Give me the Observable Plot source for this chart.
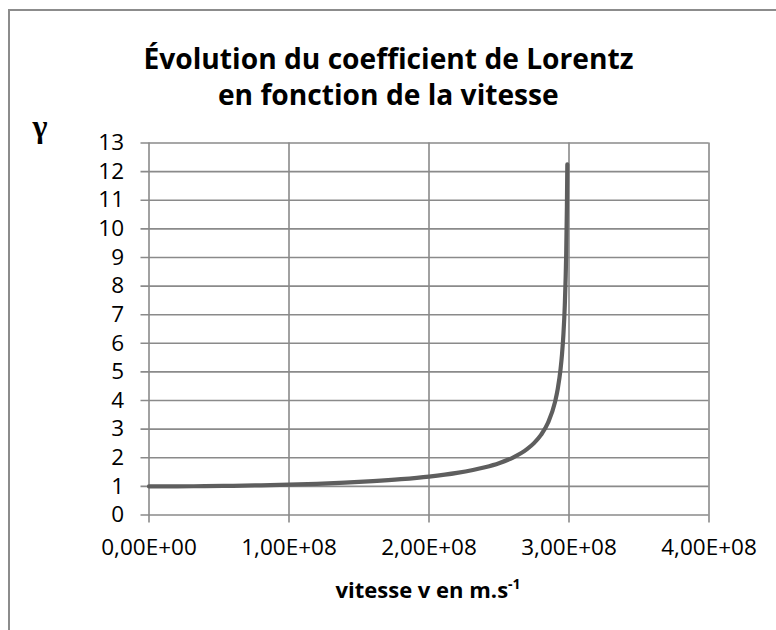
<!DOCTYPE html>
<html>
<head>
<meta charset="utf-8">
<script src="https://cdn.jsdelivr.net/npm/d3@7"></script>
<script src="https://cdn.jsdelivr.net/npm/@observablehq/plot@0.6"></script>
<style>
  html, body { margin: 0; padding: 0; background: #fff; overflow: hidden; }
  #wrap { position: relative; width: 776px; height: 630px; overflow: hidden; background: #fff; }
  #frame { position: absolute; left: 8px; top: 9px; width: 900px; height: 900px;
           border-left: 2px solid #8c8c8c; border-top: 2px solid #8c8c8c; }
  .title { position: absolute; white-space: nowrap; font-family: "Open Sans", sans-serif;
           font-weight: bold; font-size: 28px; color: #000; line-height: 1; transform-origin: center; }
  #gamma { position: absolute; font-family: "Liberation Serif", serif; font-weight: bold;
           font-size: 32px; color: #000; line-height: 1; }
  #xlabel { position: absolute; white-space: nowrap; font-family: "Open Sans", sans-serif;
            font-weight: bold; font-size: 22px; color: #000; line-height: 1; }
  #xlabel sup { font-size: 14px; vertical-align: 9px; line-height: 0; }
  #chart { position: absolute; left: 0; top: 0; }
</style>
</head>
<body>
<div id="wrap">
  <div id="frame"></div>
  <div id="chart"></div>
  <div class="title" id="t1">Évolution du coefficient de Lorentz</div>
  <div class="title" id="t2">en fonction de la vitesse</div>
  <div id="gamma">γ</div>
  <div id="xlabel">vitesse v en m.s<sup>-1</sup></div>
</div>
<script>
// Data
const vitesse = [0, 2e7, 4e7, 6e7, 8e7, 1e8, 1.2e8, 1.4e8, 1.6e8, 1.8e8, 2e8, 2.2e8, 2.4e8,
  2.5e8, 2.6e8, 2.7e8, 2.75e8, 2.8e8, 2.85e8, 2.9e8, 2.92e8, 2.94e8, 2.95e8, 2.96e8,
  2.97e8, 2.98e8, 2.985e8, 2.988e8];
const gammaVals = [1, 1.002, 1.009, 1.021, 1.038, 1.061, 1.091, 1.131, 1.183, 1.251, 1.342, 1.472, 1.669,
  1.812, 2.009, 2.301, 2.511, 2.798, 3.223, 3.944, 4.415, 5.109, 5.614, 6.30,
  7.33, 9.13, 10.75, 12.25];
const xTicks = [0, 1e8, 2e8, 3e8, 4e8];
const xTickLabels = ["0,00E+00", "1,00E+08", "2,00E+08", "3,00E+08", "4,00E+08"];
const yTicks = [0, 1, 2, 3, 4, 5, 6, 7, 8, 9, 10, 11, 12, 13];

const data = vitesse.map((v, i) => ({v, g: gammaVals[i]}));
const gridColor = "#8a8a8a";

const chart = Plot.plot({
  width: 776,
  height: 630,
  marginLeft: 148.5,
  marginRight: 67.5,
  marginTop: 142.5,
  marginBottom: 115.5,
  style: {fontFamily: "'Open Sans', sans-serif", fontSize: "22.5px", color: "#000", background: "transparent", overflow: "visible"},
  x: {domain: [0, 4e8], label: null},
  y: {domain: [0, 13], label: null},
  marks: [
    Plot.ruleY(yTicks, {stroke: gridColor, strokeWidth: 1.6, insetLeft: -8}),
    Plot.ruleX(xTicks, {stroke: gridColor, strokeWidth: 1.6, insetBottom: -8}),
    Plot.axisY(yTicks, {tickSize: 0, tickPadding: 25, tickFormat: d => String(d), fill: "#000", label: null}),
    Plot.axisX(xTicks, {tickSize: 0, tickPadding: 24, tickFormat: (d, i) => xTickLabels[i], fill: "#000", label: null}),
    Plot.line(data, {x: "v", y: "g", stroke: "#5e5e5e", strokeWidth: 4.2, curve: "monotone-x"})
  ]
});
document.getElementById("chart").appendChild(chart);

// Position titles
function place(el, cx, top, targetW) {
  const w = el.offsetWidth;
  el.style.left = (cx - w / 2) + "px";
  el.style.top = top + "px";
  if (targetW) el.style.transform = `scaleX(${targetW / w})`;
}
const t1 = document.getElementById("t1");
const t2 = document.getElementById("t2");
const k = 490 / t1.offsetWidth;
place(t1, 388, 44, 490);
place(t2, 388, 80, t2.offsetWidth * k);
place(document.getElementById("xlabel"), 428, 578);
place(document.getElementById("gamma"), 40, 110);
</script>
</body>
</html>
